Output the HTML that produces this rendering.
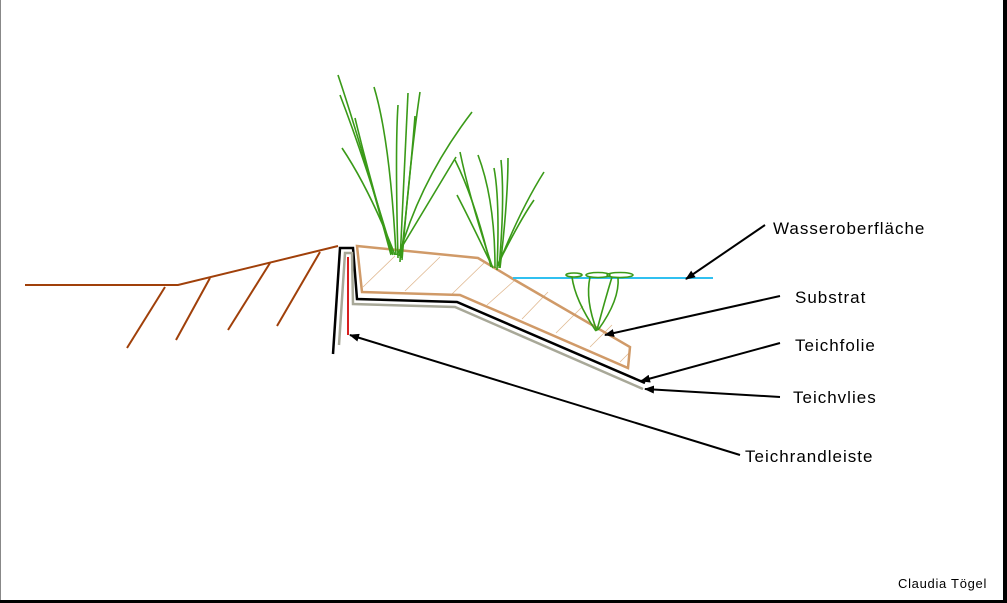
<!DOCTYPE html>
<html><head><meta charset="utf-8"><style>
html,body{margin:0;padding:0;background:#fff}
svg{display:block}
text{font-family:"Liberation Sans",Arial,sans-serif;fill:#000}
</style></head><body>
<svg width="1007" height="603" viewBox="0 0 1007 603" xmlns="http://www.w3.org/2000/svg">
<defs><marker id="ah" markerWidth="10" markerHeight="8" refX="9" refY="4" orient="auto" markerUnits="userSpaceOnUse"><path d="M0,0 L10,4 L0,8 Z" fill="#000"/></marker></defs>
<rect x="0" y="0" width="1007" height="603" fill="#fff"/>
<line x1="0.5" y1="0" x2="0.5" y2="603" stroke="#888" stroke-width="1"/>
<rect x="1003" y="0" width="4" height="603" fill="#000"/>
<rect x="0" y="600" width="1007" height="3" fill="#000"/>
<g stroke="#a0400a" stroke-width="2" fill="none">
<polyline points="25,285 178,285 338,246"/>
<line x1="165" y1="287" x2="127" y2="348"/>
<line x1="210" y1="278" x2="176" y2="340"/>
<line x1="270" y1="263" x2="228" y2="330"/>
<line x1="320" y1="252" x2="277" y2="326"/>
</g>
<g stroke="#e0b890" stroke-width="0.8">
<line x1="363" y1="287" x2="395" y2="256"/>
<line x1="405" y1="291" x2="440" y2="257"/>
<line x1="452" y1="294" x2="485" y2="262"/>
<line x1="487" y1="305" x2="515" y2="280"/>
<line x1="522" y1="319" x2="548" y2="292"/>
<line x1="556" y1="333" x2="583" y2="306"/>
<line x1="590" y1="347" x2="612" y2="325"/>
<line x1="620" y1="362" x2="630" y2="352"/>
</g>
<polygon points="357,246 478,258 513,279 630,347 628,368 460,295 362,292" fill="none" stroke="#d09a68" stroke-width="2.5"/>
<polyline points="333,354 340,248 353,248 357,299 457,302 645,383" fill="none" stroke="#000" stroke-width="2.5"/>
<polyline points="339,345 345,253 352,253 353,304 455,307 643,389" fill="none" stroke="#a8a898" stroke-width="2.5"/>
<line x1="348" y1="257" x2="348" y2="335" stroke="#d82020" stroke-width="2"/>
<line x1="513" y1="278" x2="713" y2="278" stroke="#30c0f0" stroke-width="2"/>
<g stroke="#3a9a18" stroke-width="1.6" fill="none">
<path d="M391,255 Q360,140 338,75"/>
<path d="M393,255 Q365,160 340,95"/>
<path d="M395,255 Q370,190 342,148"/>
<path d="M396,255 Q390,140 374,87"/>
<path d="M398,258 Q395,150 398,105"/>
<path d="M400,262 Q405,150 408,93"/>
<path d="M402,260 Q410,160 420,92"/>
<path d="M401,258 Q410,180 415,116"/>
<path d="M399,256 Q420,180 472,112"/>
<path d="M397,255 Q430,200 456,157"/>
<path d="M392,254 Q370,180 355,118"/>
<path d="M491,267 Q475,200 455,160"/>
<path d="M493,268 Q470,220 457,195"/>
<path d="M492,266 Q470,200 460,152"/>
<path d="M495,268 Q495,200 478,155"/>
<path d="M497,270 Q500,200 494,168"/>
<path d="M499,268 Q505,200 501,160"/>
<path d="M500,268 Q508,200 508,158"/>
<path d="M498,266 Q520,210 544,172"/>
<path d="M497,266 Q520,220 534,200"/>
</g>
<g stroke="#3a9a18" stroke-width="1.6" fill="none">
<path d="M596,331 Q575,300 572,277"/>
<path d="M597,331 Q585,300 590,277"/>
<path d="M597,330 Q605,300 612,277"/>
<path d="M598,330 Q620,300 618,277"/>
<ellipse cx="574" cy="275" rx="8" ry="2"/>
<ellipse cx="598" cy="275" rx="12" ry="2.5"/>
<ellipse cx="620" cy="275" rx="13" ry="2.5"/>
</g>
<g stroke="#000" stroke-width="2" marker-end="url(#ah)">
<line x1="765" y1="225" x2="686" y2="279"/>
<line x1="780" y1="296" x2="605" y2="335"/>
<line x1="780" y1="343" x2="641" y2="381"/>
<line x1="780" y1="397" x2="645" y2="389"/>
<line x1="740" y1="455" x2="350" y2="335"/>
</g>
<g font-size="17" letter-spacing="1">
<text x="773" y="234">Wasseroberfläche</text>
<text x="795" y="303">Substrat</text>
<text x="795" y="351">Teichfolie</text>
<text x="793" y="403">Teichvlies</text>
<text x="745" y="462">Teichrandleiste</text>
</g>
<text x="898" y="588" font-size="13" letter-spacing="0.7">Claudia Tögel</text>
</svg>
</body></html>
